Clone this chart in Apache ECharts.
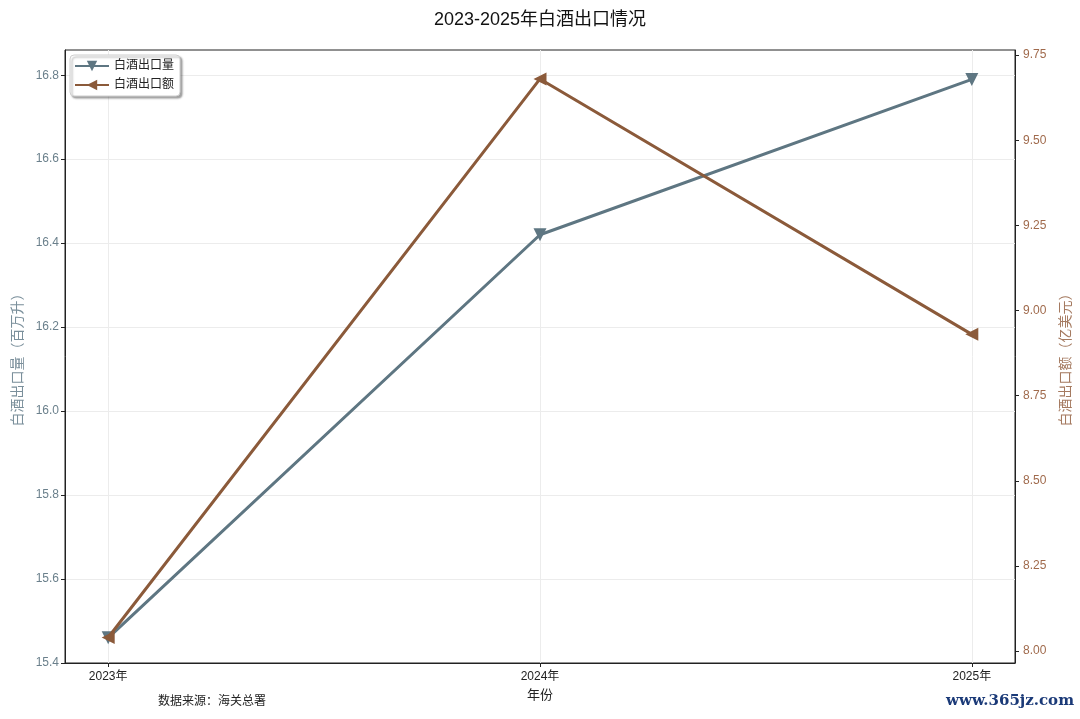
<!DOCTYPE html>
<html><head><meta charset="utf-8">
<script src="https://cdn.jsdelivr.net/npm/echarts@6/dist/echarts.min.js"></script>
<style>html,body{margin:0;padding:0;background:#fff}#c{width:1080px;height:719px}</style>
</head><body><div id="c"></div>
<script>
const years = [2023, 2024, 2025];
const yearLabels = ['2023年', '2024年', '2025年'];
const volume = [15.46, 16.42, 16.79];
const exportValue = [8.04, 9.68, 8.93];
const leftTicks = [15.4, 15.6, 15.8, 16.0, 16.2, 16.4, 16.6, 16.8];
const rightTicks = [8.00, 8.25, 8.50, 8.75, 9.00, 9.25, 9.50, 9.75];

const FONT = 'Liberation Sans, "Noto Sans CJK SC", sans-serif';
const C_VOL = '#5e7682';
const C_VAL = '#8b5a3a';

const chart = echarts.init(document.getElementById('c'));
chart.setOption({
  backgroundColor: '#fff',
  animation: false,
  textStyle: { fontFamily: FONT },
  title: {
    text: '2023-2025年白酒出口情况',
    left: 'center', top: 6,
    textStyle: { fontFamily: FONT, fontSize: 18, fontWeight: 'normal', color: '#111' }
  },
  legend: {
    left: 70, top: 55,
    orient: 'vertical',
    itemWidth: 34, itemHeight: 13, itemGap: 7,
    padding: [5, 6, 5, 4],
    backgroundColor: '#fff',
    borderColor: '#cfcfcf', borderWidth: 1, borderRadius: 4,
    shadowColor: 'rgba(0,0,0,0.35)', shadowOffsetX: 2, shadowOffsetY: 2, shadowBlur: 2,
    textStyle: { fontFamily: FONT, fontSize: 12, color: '#222' },
    data: ['白酒出口量', '白酒出口额']
  },
  grid: {
    left: 65, right: 65, top: 50, bottom: 56,
    outerBoundsMode: 'none', containLabel: false,
    show: true, borderColor: '#222', borderWidth: 1, backgroundColor: 'transparent'
  },
  xAxis: {
    type: 'value',
    min: 2022.9, max: 2025.1,
    name: '年份', nameLocation: 'middle', nameGap: 26,
    nameTextStyle: { fontFamily: FONT, fontSize: 13, color: '#222' },
    axisLine: { show: true, lineStyle: { color: '#222', width: 1 } },
    axisTick: { show: true, length: 4, customValues: years, lineStyle: { color: '#222' } },
    axisLabel: {
      customValues: years, margin: 8, fontSize: 12, color: '#222', fontFamily: FONT,
      formatter: v => yearLabels[years.indexOf(Math.round(v))] || ''
    },
    splitLine: { show: true, lineStyle: { color: '#ececec', width: 1 } }
  },
  yAxis: [
    {
      type: 'value', position: 'left',
      min: 15.4, max: 16.86,
      name: '白酒出口量（百万升）', nameLocation: 'middle', nameGap: 40, nameRotate: 90,
      nameTextStyle: { fontFamily: FONT, fontSize: 14, color: '#7a8f9b' },
      axisLine: { show: true, lineStyle: { color: '#222', width: 1 } },
      axisTick: { show: true, length: 4, customValues: leftTicks, lineStyle: { color: '#222' } },
      axisLabel: {
        customValues: leftTicks, margin: 6, fontSize: 12, color: '#6b808c', fontFamily: FONT,
        formatter: v => v.toFixed(1)
      },
      splitLine: { show: true, lineStyle: { color: '#ececec', width: 1 } }
    },
    {
      type: 'value', position: 'right',
      min: 7.965, max: 9.765,
      name: '白酒出口额（亿美元）', nameLocation: 'middle', nameGap: 44, nameRotate: 90,
      nameTextStyle: { fontFamily: FONT, fontSize: 14, color: '#a57a60' },
      axisLine: { show: true, lineStyle: { color: '#222', width: 1 } },
      axisTick: { show: true, length: 4, customValues: rightTicks, lineStyle: { color: '#222' } },
      axisLabel: {
        customValues: rightTicks, margin: 8, fontSize: 12, color: '#a06a4c', fontFamily: FONT,
        formatter: v => v.toFixed(2)
      },
      splitLine: { show: false }
    }
  ],
  series: [
    {
      name: '白酒出口量', type: 'line', yAxisIndex: 0,
      data: years.map((y, i) => [y, volume[i]]),
      symbol: 'triangle', symbolRotate: 180, symbolSize: 13,
      lineStyle: { color: C_VOL, width: 3 },
      itemStyle: { color: C_VOL },
      z: 3
    },
    {
      name: '白酒出口额', type: 'line', yAxisIndex: 1,
      data: years.map((y, i) => [y, exportValue[i]]),
      symbol: 'triangle', symbolRotate: 90, symbolSize: 13,
      lineStyle: { color: C_VAL, width: 3 },
      itemStyle: { color: C_VAL },
      z: 4
    }
  ],
  graphic: [
    {
      type: 'text', left: 158, top: 696,
      style: { text: '数据来源：海关总署', fontFamily: FONT, fontSize: 12, fill: '#222' }
    },
    {
      type: 'text', right: 6, top: 694,
      style: { text: 'www.365jz.com', fontFamily: '"DejaVu Serif", serif', fontWeight: 'bold', fontSize: 15, fill: '#1b3a78' }
    }
  ]
});
</script>
</body></html>
